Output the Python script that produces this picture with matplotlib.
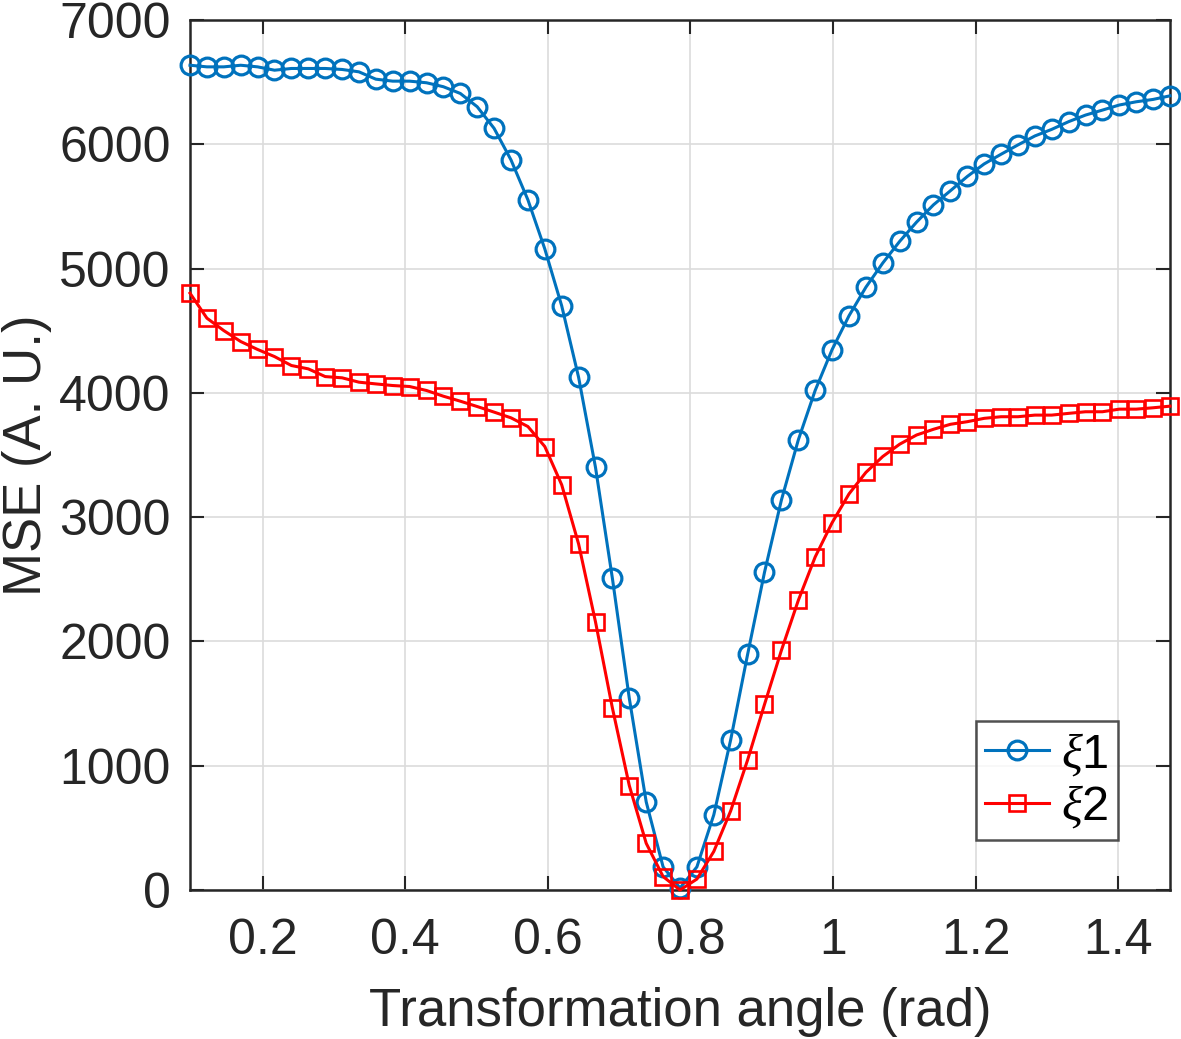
import matplotlib
matplotlib.use("Agg")
import matplotlib.pyplot as plt

plt.rcParams['font.family'] = ['Liberation Sans', 'DejaVu Sans']
plt.rcParams['mathtext.fontset'] = 'custom'
plt.rcParams['mathtext.it'] = 'Liberation Serif:italic'
plt.rcParams['mathtext.rm'] = 'Liberation Sans'

angles = [0.0982, 0.1219, 0.1456, 0.1693, 0.1930, 0.2167, 0.2404, 0.2641, 0.2878, 0.3115,
          0.3351, 0.3588, 0.3825, 0.4062, 0.4299, 0.4536, 0.4773, 0.5010, 0.5247, 0.5484,
          0.5721, 0.5958, 0.6195, 0.6432, 0.6669, 0.6906, 0.7143, 0.7380, 0.7617, 0.7854,
          0.8091, 0.8328, 0.8565, 0.8802, 0.9039, 0.9276, 0.9513, 0.9750, 0.9987, 1.0224,
          1.0461, 1.0698, 1.0935, 1.1172, 1.1409, 1.1646, 1.1883, 1.2120, 1.2357, 1.2594,
          1.2831, 1.3067, 1.3304, 1.3541, 1.3778, 1.4015, 1.4252, 1.4489, 1.4726]

xi1 = [6636, 6623, 6623, 6636, 6623, 6596, 6610, 6610, 6610, 6602,
       6583, 6524, 6508, 6508, 6495, 6463, 6409, 6302, 6128, 5874,
       5553, 5158, 4700, 4125, 3400, 2507, 1542, 709, 186, 16,
       186, 605, 1209, 1895, 2556, 3137, 3621, 4020, 4348, 4620,
       4850, 5045, 5219, 5374, 5513, 5626, 5741, 5842, 5920, 5995,
       6067, 6120, 6182, 6235, 6275, 6316, 6342, 6361, 6390]

xi2 = [4802, 4601, 4501, 4413, 4349, 4292, 4220, 4193, 4131, 4121,
       4086, 4072, 4059, 4051, 4019, 3973, 3933, 3890, 3845, 3799,
       3729, 3568, 3260, 2784, 2157, 1464, 840, 376, 108, 0,
       88, 310, 637, 1046, 1493, 1928, 2330, 2680, 2955, 3187,
       3360, 3488, 3587, 3661, 3707, 3747, 3768, 3795, 3808, 3808,
       3821, 3821, 3835, 3848, 3848, 3869, 3869, 3880, 3893]

xticks = [0.2, 0.4, 0.6, 0.8, 1.0, 1.2, 1.4]
xticklabels = ['0.2', '0.4', '0.6', '0.8', '1', '1.2', '1.4']
yticks = [0, 1000, 2000, 3000, 4000, 5000, 6000, 7000]

fig = plt.figure(figsize=(11.81, 10.39), dpi=100)
ax = fig.add_axes([190/1181, 1 - 890/1039, 980/1181, 870/1039])

ax.plot(angles, xi1, color='#0072BD', lw=2.2, marker='o', ms=13.5, mfc='none',
        mew=2.3, clip_on=False, zorder=3, label=r'$\xi$1')
ax.plot(angles, xi2, color='#FF0000', lw=2.2, marker='s', ms=11, mfc='none',
        mew=1.9, clip_on=False, zorder=3, label=r'$\xi$2')

ax.set_xlim(angles[0], angles[-1])
ax.set_ylim(0, 7000)
ax.set_xticks(xticks)
ax.set_xticklabels(xticklabels)
ax.set_yticks(yticks)
ax.grid(True, color='#DCDCDC', lw=1.2)
ax.set_axisbelow(True)
ax.tick_params(direction='in', length=10, width=1.5, labelsize=36, colors='#262626',
               top=True, right=True)
ax.tick_params(axis='x', pad=20)
ax.tick_params(axis='y', pad=14)
for s in ax.spines.values():
    s.set_linewidth(1.8)
    s.set_color('#262626')
ax.set_xlabel('Transformation angle (rad)', fontsize=38, color='#262626')
ax.xaxis.set_label_coords(0.5, -(1012 - 890) / 870)
ax.xaxis.label.set_va('center')
ax.set_ylabel('MSE (A. U.)', fontsize=38, color='#262626')
ax.yaxis.set_label_coords(-0.166, 0.5)
ax.yaxis.label.set_va('center')

leg = ax.legend(loc='lower right', fontsize=35, frameon=True, fancybox=False,
                edgecolor='#262626', handlelength=1.3, handletextpad=0.25,
                borderpad=0.2, labelspacing=0.12, borderaxespad=0,
                bbox_to_anchor=(928/980, 50/870))
leg.get_frame().set_linewidth(1.8)

fig.savefig('out.png', dpi=100)
